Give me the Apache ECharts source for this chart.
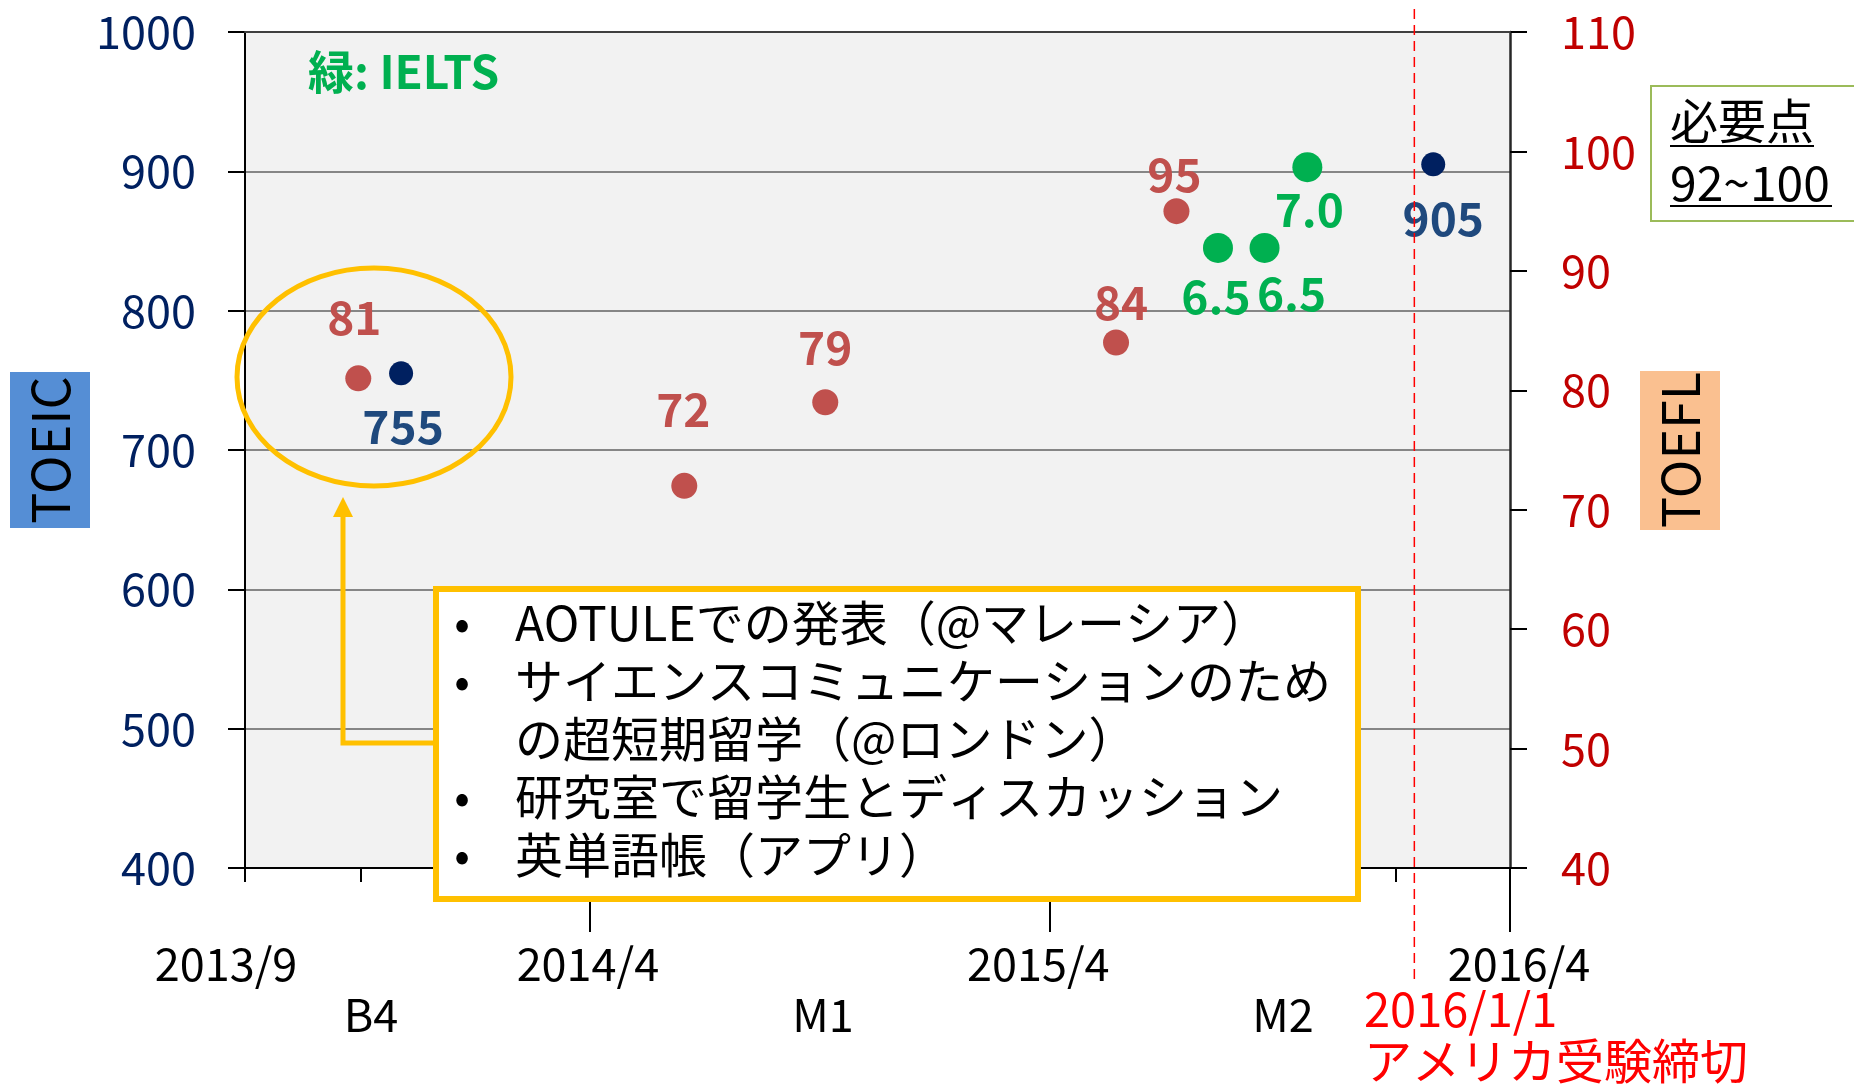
<!DOCTYPE html>
<html>
<head>
<meta charset="utf-8">
<script src="https://cdn.jsdelivr.net/npm/echarts@6/dist/echarts.min.js"></script>
<style>
html,body{margin:0;padding:0;background:#fff;}
#main{width:1854px;height:1084px;}
</style>
</head>
<body>
<div id="main"></div>
<script>
// scores (red = TOEFL, navy = TOEIC, green = IELTS)
var toeflDates = ['2013-09-29', '2014-06-15', '2014-10-05', '2015-05-24', '2015-07-11'];
var toeflScores = [81, 72, 79, 84, 95];
var toeicDates = ['2013-11-02', '2016-01-31'];
var toeicScores = [755, 905];
var ieltsDates = ['2015-08-13', '2015-09-19', '2015-10-23'];
var ieltsScores = [6.5, 6.5, 7.0];
var ieltsOnToeic = [845, 845, 903]; // where the IELTS dots sit on the TOEIC scale
var deadlineDate = '2016-01-16';

// axes
var xMin = '2013-07-01', xMax = '2016-04-01';
var xLabelDates = ['2013-07-01', '2014-04-01', '2015-04-01', '2016-04-01'];
var xLabelTexts = ['2013/9', '2014/4', '2015/4', '2016/4'];
var yearTicks = ['2014-04-01', '2015-04-01', '2016-04-01'];
var quarterTicks = ['2013-07-01', '2013-10-01', '2014-01-01', '2014-07-01', '2014-10-01',
                    '2015-01-01', '2015-07-01', '2015-10-01', '2016-01-01'];
var toeicMin = 400, toeicMax = 1000, toeicStep = 100;
var toeflMin = 40, toeflMax = 110, toeflStep = 10;

var gradeLabels = ['B4', 'M1', 'M2'];
var activityLines = ['AOTULEでの発表（@マレーシア）', 'サイエンスコミュニケーションのため',
                     'の超短期留学（@ロンドン）', '研究室で留学生とディスカッション', '英単語帳（アプリ）'];
var activityBullets = [true, true, false, true, true];

var FONT = '"Noto Sans CJK JP", "Noto Sans", sans-serif';

function ts(s) {
  var p = s.split('-');
  return new Date(+p[0], p[1] - 1, +p[2]).getTime();
}
var labelTs = xLabelDates.map(ts);

// label offsets [dx, dy] from each dot
var toeflOffsets = [[-4, -61], [-1, -76], [0, -55], [5, -40], [-2, -37]];
var toeicOffsets = [[2, 53], [10, 54]];
var ieltsOffsets = [[-2, 49], [27, 46], [2, 42]];

function points(dates, values, offsets, texts) {
  return dates.map(function (d, i) {
    return {
      value: [ts(d), values[i]],
      label: { offset: offsets[i], formatter: texts ? texts[i] : String(values[i]) }
    };
  });
}

var chart = echarts.init(document.getElementById('main'));

var graphics = [];
// y axis name boxes
graphics.push({ type: 'rect', shape: { x: 10, y: 372, width: 80, height: 156 }, style: { fill: '#558ed5' } });
graphics.push({ type: 'text', x: 50, y: 450, rotation: Math.PI / 2,
  style: { text: 'TOEIC', font: '52px ' + FONT, fill: '#000', align: 'center', verticalAlign: 'middle' } });
graphics.push({ type: 'rect', shape: { x: 1640, y: 371, width: 80, height: 159 }, style: { fill: '#fac090' } });
graphics.push({ type: 'text', x: 1680, y: 450, rotation: Math.PI / 2,
  style: { text: 'TOEFL', font: '52px ' + FONT, fill: '#000', align: 'center', verticalAlign: 'middle' } });
// required score box
graphics.push({ type: 'rect', shape: { x: 1651, y: 86, width: 230, height: 135 },
  style: { fill: '#fff', stroke: '#9bbb59', lineWidth: 2 } });
graphics.push({ type: 'text', x: 1670, y: 121,
  style: { text: '必要点', font: '48px ' + FONT, fill: '#000', align: 'left', verticalAlign: 'middle' } });
graphics.push({ type: 'line', shape: { x1: 1670, y1: 146, x2: 1814, y2: 146 }, style: { stroke: '#000', lineWidth: 2 } });
graphics.push({ type: 'text', x: 1670, y: 183,
  style: { text: '92~100', font: '48px ' + FONT, fill: '#000', align: 'left', verticalAlign: 'middle' } });
graphics.push({ type: 'line', shape: { x1: 1670, y1: 206, x2: 1832, y2: 206 }, style: { stroke: '#000', lineWidth: 2 } });
// legend-ish note
graphics.push({ type: 'text', x: 308, y: 72,
  style: { text: '緑: IELTS', font: 'bold 46px ' + FONT, fill: '#00b050', align: 'left', verticalAlign: 'middle' } });
// circle + arrow + activity box
graphics.push({ type: 'ellipse', shape: { cx: 374, cy: 377, rx: 137, ry: 109 },
  style: { fill: 'none', stroke: '#ffc000', lineWidth: 5 } });
graphics.push({ type: 'polyline', shape: { points: [[437, 743], [343, 743], [343, 512]] },
  style: { stroke: '#ffc000', lineWidth: 5, fill: 'none' } });
graphics.push({ type: 'polygon', shape: { points: [[343, 497], [333, 517], [353, 517]] }, style: { fill: '#ffc000' } });
graphics.push({ type: 'rect', shape: { x: 436, y: 589, width: 922, height: 310 },
  style: { fill: '#fff', stroke: '#ffc000', lineWidth: 6 } });
activityLines.forEach(function (t, i) {
  var y = 623 + i * 58;
  if (activityBullets[i]) {
    graphics.push({ type: 'text', x: 462, y: y,
      style: { text: '•', font: '46px ' + FONT, fill: '#000', align: 'center', verticalAlign: 'middle' } });
  }
  graphics.push({ type: 'text', x: 515, y: y,
    style: { text: t, font: '48px ' + FONT, fill: '#000', align: 'left', verticalAlign: 'middle' } });
});
// grade labels
[371, 823, 1283].forEach(function (x, i) {
  graphics.push({ type: 'text', x: x, y: 1015,
    style: { text: gradeLabels[i], font: '45px ' + FONT, fill: '#000', align: 'center', verticalAlign: 'middle' } });
});
// deadline note
graphics.push({ type: 'text', x: 1364, y: 1009,
  style: { text: '2016/1/1', font: '47px ' + FONT, fill: '#ff0000', align: 'left', verticalAlign: 'middle' } });
graphics.push({ type: 'text', x: 1364, y: 1061,
  style: { text: 'アメリカ受験締切', font: '48px ' + FONT, fill: '#ff0000', align: 'left', verticalAlign: 'middle' } });
graphics.forEach(function (g) { g.z = 100; });

var labelBase = { show: true, position: 'inside', fontFamily: FONT, fontSize: 46, fontWeight: 'bold' };
var xPads = [[0, 38, 0, 0], [0, 4, 0, 0], [0, 22, 0, 0], [0, 0, 0, 18]];
var xRich = {};
xPads.forEach(function (p, i) {
  xRich['s' + i] = { fontSize: 45, fontFamily: FONT, color: '#000', padding: p };
});

var option = {
  animation: false,
  textStyle: { fontFamily: FONT },
  grid: { left: 245, top: 32, width: 1265, height: 836, show: true, backgroundColor: '#f2f2f2', borderWidth: 0 },
  xAxis: [
    {
      type: 'value', min: ts(xMin), max: ts(xMax), position: 'bottom', z: 1,
      axisLine: { lineStyle: { color: '#000', width: 2 } },
      axisTick: { show: true, length: 64, customValues: yearTicks.map(ts), lineStyle: { color: '#000', width: 2 } },
      splitLine: { show: false },
      axisLabel: {
        customValues: labelTs, showMinLabel: true, showMaxLabel: true,
        margin: 73, color: '#000', fontSize: 45, fontFamily: FONT,
        formatter: function (v) {
          var i = labelTs.indexOf(v);
          if (i < 0) return '';
          return '{s' + i + '|' + xLabelTexts[i] + '}';
        },
        rich: xRich
      }
    },
    {
      type: 'value', min: ts(xMin), max: ts(xMax), position: 'bottom', z: 1,
      axisLine: { show: false },
      axisTick: { show: true, length: 14, customValues: quarterTicks.map(ts), lineStyle: { color: '#000', width: 2 } },
      axisLabel: { show: false },
      splitLine: { show: false }
    },
    {
      type: 'value', min: ts(xMin), max: ts(xMax), position: 'top', z: 1,
      axisLine: { lineStyle: { color: '#404040', width: 2 } },
      axisTick: { show: false }, axisLabel: { show: false }, splitLine: { show: false }
    }
  ],
  yAxis: [
    {
      type: 'value', position: 'left', min: toeicMin, max: toeicMax, interval: toeicStep,
      axisLine: { show: true, lineStyle: { color: '#000', width: 2 } },
      axisTick: { show: true, length: 17, lineStyle: { color: '#000', width: 2 } },
      axisLabel: { color: '#002060', fontSize: 45, fontFamily: FONT, margin: 49,
        formatter: function (v) { return String(v); } },
      splitLine: { show: true, lineStyle: { color: '#868686', width: 2 } }
    },
    {
      type: 'value', position: 'right', min: toeflMin, max: toeflMax, interval: toeflStep,
      axisLine: { show: true, lineStyle: { color: '#262626', width: 2.5 } },
      axisTick: { show: true, length: 17, lineStyle: { color: '#000', width: 2 } },
      axisLabel: { color: '#c00000', fontSize: 45, fontFamily: FONT, margin: 51,
        formatter: function (v) { return String(v); } },
      splitLine: { show: false }
    }
  ],
  series: [
    {
      name: 'TOEFL', type: 'scatter', xAxisIndex: 0, yAxisIndex: 1, symbolSize: 26,
      itemStyle: { color: '#c0504d', opacity: 1 },
      label: Object.assign({ color: '#c0504d' }, labelBase),
      data: points(toeflDates, toeflScores, toeflOffsets)
    },
    {
      name: 'TOEIC', type: 'scatter', xAxisIndex: 0, yAxisIndex: 0, symbolSize: 24,
      itemStyle: { color: '#002060', opacity: 1 },
      label: Object.assign({ color: '#1f497d' }, labelBase),
      data: points(toeicDates, toeicScores, toeicOffsets)
    },
    {
      name: 'IELTS', type: 'scatter', xAxisIndex: 0, yAxisIndex: 0, symbolSize: 30,
      itemStyle: { color: '#00b050', opacity: 1 },
      label: Object.assign({ color: '#00b050' }, labelBase),
      data: points(ieltsDates, ieltsOnToeic, ieltsOffsets, ieltsScores.map(function (s) { return s.toFixed(1); }))
    }
  ],
  graphic: { elements: graphics }
};
chart.setOption(option);

// deadline line: runs past the plot, so place it from the x scale
var dx = chart.convertToPixel({ xAxisIndex: 0 }, ts(deadlineDate));
graphics.push({ type: 'line', z: 90, shape: { x1: dx, y1: 9, x2: dx, y2: 982 },
  style: { stroke: '#ff0000', lineWidth: 1.5, lineDash: [10, 6] } });
chart.setOption({ graphic: { elements: graphics } });
</script>
</body>
</html>
